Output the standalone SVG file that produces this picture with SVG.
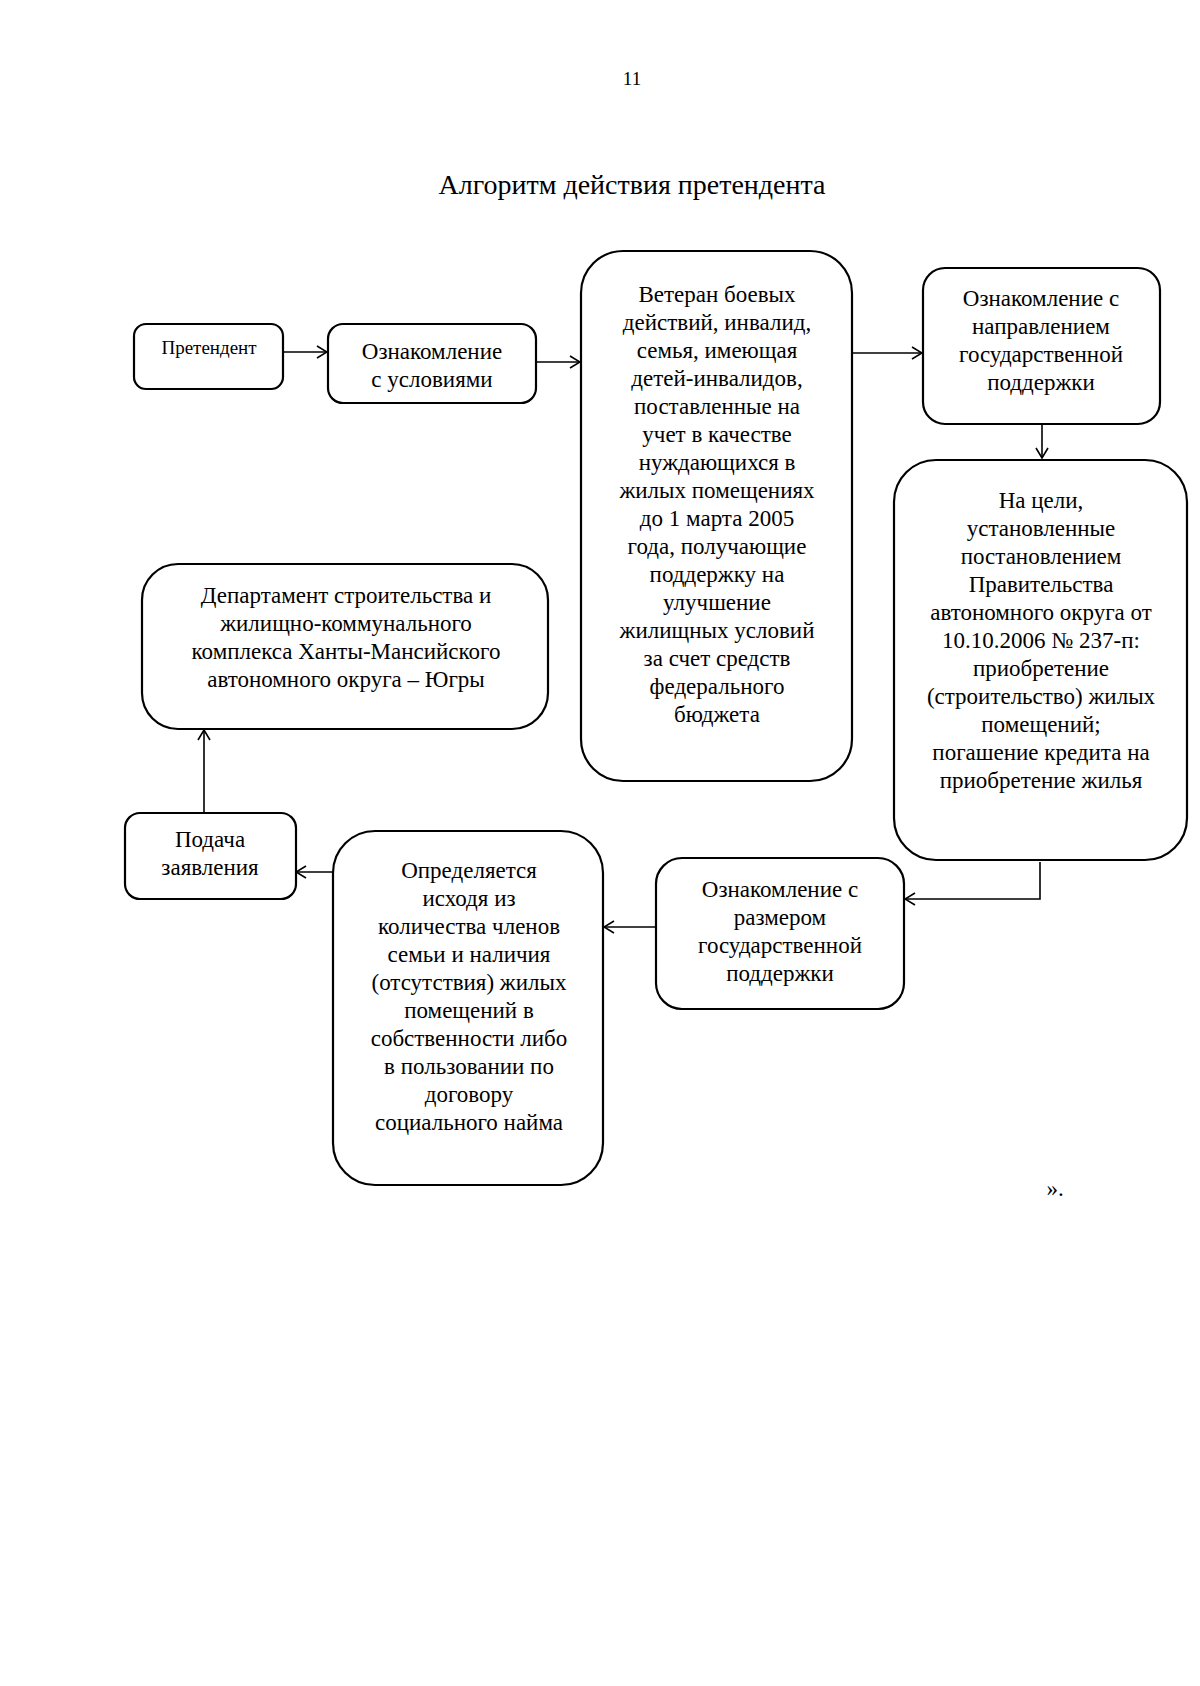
<svg xmlns="http://www.w3.org/2000/svg" width="1200" height="1686" viewBox="0 0 1200 1686">
<style>
.box{fill:#fff;stroke:#000;stroke-width:2.2}
.t{font-family:"Liberation Serif","Times New Roman",serif;font-size:23px;fill:#000;text-anchor:middle}
.s{font-size:19px}
.c{fill:none;stroke:#000;stroke-width:1.6}
</style>
<defs>
<marker id="arr" viewBox="0 0 12 14" refX="11" refY="7" markerWidth="12" markerHeight="14" markerUnits="userSpaceOnUse" orient="auto">
<path d="M1,1 L11,7 L1,13" fill="none" stroke="#000" stroke-width="1.6"/>
</marker>
</defs>
<rect width="1200" height="1686" fill="#fff"/>
<text class="t" x="632" y="85" style="font-size:19px">11</text>
<text class="t" x="632" y="194" style="font-size:28px">Алгоритм действия претендента</text>

<g id="connectors">
<line class="c" x1="283" y1="352" x2="327" y2="352" marker-end="url(#arr)"/>
<line class="c" x1="536" y1="362" x2="580" y2="362" marker-end="url(#arr)"/>
<line class="c" x1="853" y1="353" x2="922" y2="353" marker-end="url(#arr)"/>
<line class="c" x1="1042" y1="424" x2="1042" y2="458" marker-end="url(#arr)"/>
<polyline class="c" points="1040,862 1040,899 905,899" marker-end="url(#arr)"/>
<line class="c" x1="656" y1="927" x2="604" y2="927" marker-end="url(#arr)"/>
<line class="c" x1="333" y1="872" x2="296" y2="872" marker-end="url(#arr)"/>
<line class="c" x1="204" y1="813" x2="204" y2="730" marker-end="url(#arr)"/>
</g>

<g id="n1">
<rect class="box" x="134" y="324" width="149" height="65" rx="12"/>
<text class="t s" x="209" y="354">Претендент</text>
</g>
<g id="n2">
<rect class="box" x="328" y="324" width="208" height="79" rx="15"/>
<text class="t" x="432" y="359">Ознакомление</text>
<text class="t" x="432" y="387">с условиями</text>
</g>
<g id="n3">
<rect class="box" x="581" y="251" width="271" height="530" rx="42"/>
<text class="t" x="717" y="302">Ветеран боевых</text>
<text class="t" x="717" y="330">действий, инвалид,</text>
<text class="t" x="717" y="358">семья, имеющая</text>
<text class="t" x="717" y="386">детей-инвалидов,</text>
<text class="t" x="717" y="414">поставленные на</text>
<text class="t" x="717" y="442">учет в качестве</text>
<text class="t" x="717" y="470">нуждающихся в</text>
<text class="t" x="717" y="498">жилых помещениях</text>
<text class="t" x="717" y="526">до 1 марта 2005</text>
<text class="t" x="717" y="554">года, получающие</text>
<text class="t" x="717" y="582">поддержку на</text>
<text class="t" x="717" y="610">улучшение</text>
<text class="t" x="717" y="638">жилищных условий</text>
<text class="t" x="717" y="666">за счет средств</text>
<text class="t" x="717" y="694">федерального</text>
<text class="t" x="717" y="722">бюджета</text>
</g>
<g id="n4">
<rect class="box" x="923" y="268" width="237" height="156" rx="22"/>
<text class="t" x="1041" y="306">Ознакомление с</text>
<text class="t" x="1041" y="334">направлением</text>
<text class="t" x="1041" y="362">государственной</text>
<text class="t" x="1041" y="390">поддержки</text>
</g>
<g id="n5">
<rect class="box" x="894" y="460" width="293" height="400" rx="42"/>
<text class="t" x="1041" y="508">На цели,</text>
<text class="t" x="1041" y="536">установленные</text>
<text class="t" x="1041" y="564">постановлением</text>
<text class="t" x="1041" y="592">Правительства</text>
<text class="t" x="1041" y="620">автономного округа от</text>
<text class="t" x="1041" y="648">10.10.2006 № 237-п:</text>
<text class="t" x="1041" y="676">приобретение</text>
<text class="t" x="1041" y="704">(строительство) жилых</text>
<text class="t" x="1041" y="732">помещений;</text>
<text class="t" x="1041" y="760">погашение кредита на</text>
<text class="t" x="1041" y="788">приобретение жилья</text>
</g>
<g id="n6">
<rect class="box" x="142" y="564" width="406" height="165" rx="36"/>
<text class="t" x="346" y="603">Департамент строительства и</text>
<text class="t" x="346" y="631">жилищно-коммунального</text>
<text class="t" x="346" y="659">комплекса Ханты-Мансийского</text>
<text class="t" x="346" y="687">автономного округа – Югры</text>
</g>
<g id="n7">
<rect class="box" x="125" y="813" width="171" height="86" rx="15"/>
<text class="t" x="210" y="847">Подача</text>
<text class="t" x="210" y="875">заявления</text>
</g>
<g id="n8">
<rect class="box" x="333" y="831" width="270" height="354" rx="42"/>
<text class="t" x="469" y="878">Определяется</text>
<text class="t" x="469" y="906">исходя из</text>
<text class="t" x="469" y="934">количества членов</text>
<text class="t" x="469" y="962">семьи и наличия</text>
<text class="t" x="469" y="990">(отсутствия) жилых</text>
<text class="t" x="469" y="1018">помещений в</text>
<text class="t" x="469" y="1046">собственности либо</text>
<text class="t" x="469" y="1074">в пользовании по</text>
<text class="t" x="469" y="1102">договору</text>
<text class="t" x="469" y="1130">социального найма</text>
</g>
<g id="n9">
<rect class="box" x="656" y="858" width="248" height="151" rx="26"/>
<text class="t" x="780" y="897">Ознакомление с</text>
<text class="t" x="780" y="925">размером</text>
<text class="t" x="780" y="953">государственной</text>
<text class="t" x="780" y="981">поддержки</text>
</g>
<text class="t" x="1055" y="1196">».</text>
</svg>
